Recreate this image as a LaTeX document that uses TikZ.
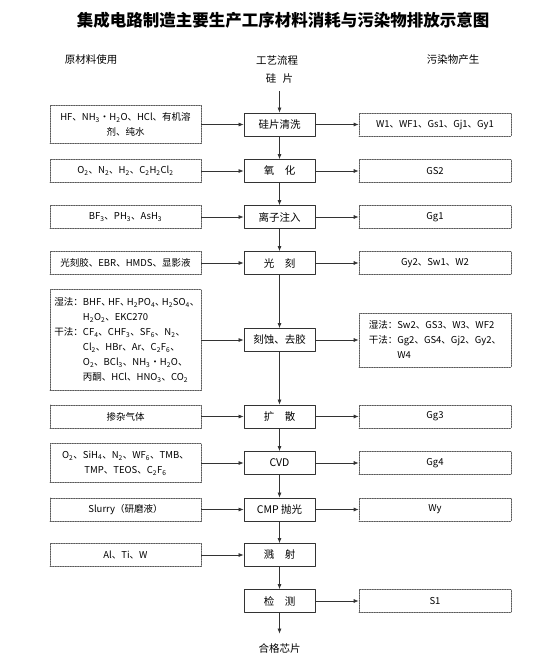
\documentclass[tikz,border=0pt]{standalone}
\usepackage{fontspec}
\setmainfont{Noto Sans CJK SC}
\usetikzlibrary{arrows.meta}
\newcommand\sbs[1]{\textsubscript{#1}}
\newcommand\tdun{、\kern-0.3em}
\tikzset{
  proc/.style={draw=black!80,line width=0.8pt,minimum width=71pt,minimum height=23pt,inner sep=1pt,font=\fontsize{10.5}{12}\selectfont},
  srcbox/.style={draw=black!65,dash pattern=on 1.5pt off 1pt,line width=0.7pt,minimum width=151pt,minimum height=23pt,inner sep=2pt,align=center,font=\fontsize{9.5}{15}\selectfont},
  outbox/.style={srcbox,minimum width=152pt},
  head/.style={font=\fontsize{10.5}{12}\selectfont},
  flow/.style={draw=black!80,line width=0.7pt}
}
\begin{document}
\begin{tikzpicture}[x=1pt,y=-1pt,line cap=round,line join=round,>={Latex[length=5pt,width=4pt]}]
        \useasboundingbox (0,0) rectangle (558,661);
        % headings
        \node[font=\fontsize{16.5}{18}\selectfont\bfseries] (title) at (283,20) {集成电路制造主要生产工序材料消耗与污染物排放示意图};
        \node[head] (hsrc) at (91,60) {原材料使用};
        \node[head] (hproc) at (277,60) {工艺流程};
        \node[head] (hout) at (453,60) {污染物产生};
        \node[head] (wafer) at (279.5,79) {硅\hspace{0.6em}片};
        \node[head] (chip) at (279.5,648) {合格芯片};
        % process column
        \foreach \i/\y/\t in {1/124.5/硅片清洗,2/171/氧\hspace{1em}化,3/217/离子注入,4/263/光\hspace{1em}刻,5/340/刻蚀、去胶,
          6/416.5/扩\hspace{1em}散,7/463/CVD,8/509.5/CMP 抛光,9/555/溅\hspace{1em}射,10/601/检\hspace{1em}测}
        \node[proc] (p\i) at (279.5,\y) {\t};
        % materials
        \node[srcbox,minimum height=38pt] (s1) at (125.5,124.5) {HF、NH\sbs{3}•H\sbs{2}O、HCl、有机溶\\剂、纯水};
        \node[srcbox] (s2) at (125.5,171) {O\sbs{2}、N\sbs{2}、H\sbs{2}、C\sbs{2}H\sbs{2}Cl\sbs{2}};
        \node[srcbox] (s3) at (125.5,217) {BF\sbs{3}、PH\sbs{3}、AsH\sbs{3}};
        \node[srcbox] (s4) at (125.5,263) {光刻胶、EBR、HMDS、显影液};
        \node[srcbox,minimum height=101pt] (s5) at (125.5,340) {\begin{tabular}{@{}l@{}l@{}}
          湿法：&BHF\tdun HF\tdun H\sbs{2}PO\sbs{4}\tdun H\sbs{2}SO\sbs{4}\tdun\\
          &H\sbs{2}O\sbs{2}、EKC270\\
          干法：&CF\sbs{4}、CHF\sbs{3}、SF\sbs{6}、N\sbs{2}、\\
          &Cl\sbs{2}、HBr、Ar、C\sbs{2}F\sbs{6}、\\
          &O\sbs{2}、BCl\sbs{3}、NH\sbs{3}•H\sbs{2}O、\\
          &丙酮、HCl、HNO\sbs{3}、CO\sbs{2}
        \end{tabular}};
        \node[srcbox] (s6) at (125.5,416.5) {掺杂气体};
        \node[srcbox,minimum height=39pt] (s7) at (125.5,463) {O\sbs{2}、SiH\sbs{4}、N\sbs{2}、WF\sbs{6}、TMB、\\TMP、TEOS、C\sbs{2}F\sbs{6}};
        \node[srcbox] (s8) at (125.5,509.5) {Slurry（研磨液）};
        \node[srcbox] (s9) at (125.5,555) {Al、Ti、W};
        % pollutants
        \node[outbox] (o1) at (435,124.5) {W1、WF1、Gs1、Gj1、Gy1};
        \node[outbox] (o2) at (435,171) {GS2};
        \node[outbox] (o3) at (435,217) {Gg1};
        \node[outbox] (o4) at (435,263) {Gy2、Sw1、W2};
        \node[outbox,minimum height=54pt] (o5) at (435,340) {\begin{tabular}{@{}l@{}l@{}}
          湿法：&Sw2、GS3、W3、WF2\\
          干法：&Gg2、GS4、Gj2、Gy2、\\
          &W4
        \end{tabular}};
        \node[outbox] (o6) at (435,416.5) {Gg3};
        \node[outbox] (o7) at (435,463) {Gg4};
        \node[outbox] (o8) at (435,509.5) {Wy};
        \node[outbox] (o10) at (435,601) {S1};
        % connectors
        \draw[->,flow,shorten <=4pt] (wafer) -- (p1);
        \foreach \i [evaluate=\i as \j using int(\i+1)] in {1,...,9}
        \draw[->,flow] (p\i) -- (p\j);
        \draw[->,flow,shorten >=6pt] (p10) -- (chip);
        \foreach \i in {1,...,9}
        \draw[->,flow] (s\i) -- (p\i);
        \foreach \i in {1,...,8,10}
        \draw[->,flow] (p\i) -- (o\i);
      \end{tikzpicture}
\end{document}
